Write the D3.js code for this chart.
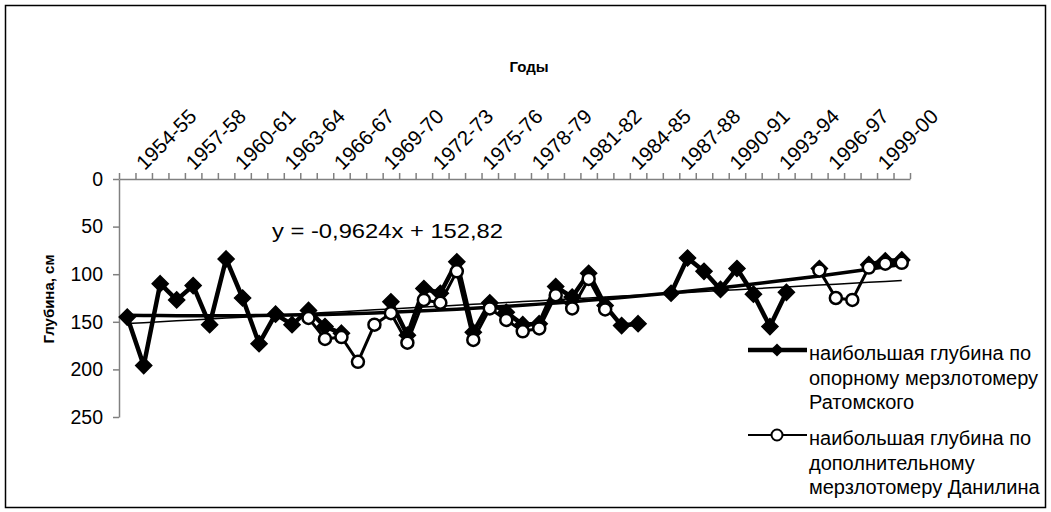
<!DOCTYPE html>
<html>
<head>
<meta charset="utf-8">
<script src="https://cdn.jsdelivr.net/npm/d3@7"></script>
<style>
  body { margin: 0; background: #fff; }
  svg { display: block; font-family: "Liberation Sans", Arial, sans-serif; }
</style>
</head>
<body>
<svg id="chart" width="1051" height="512"></svg>
<script>
// seasons 1953-54 .. 2000-01, labelled every third one
const seasons = d3.range(1953, 2001).map(function (y) {
  return y + "-" + String((y + 1) % 100).padStart(2, "0");
});
const labelIdx = d3.range(1, 48, 3);

// наибольшая глубина по опорному мерзлотомеру Ратомского
const ratomsky = [145, 196, 110, 127, 112, 153, 84, 125, 173, 142,
  153, 138, 155, 162, null, null, 129, 164, 115, 120,
  87, 161, 130, 140, 153, 152, 113, 124, 99, 133,
  154, 152, null, 120, 83, 97, 116, 94, 121, 155,
  119, null, 94, null, null, 90, 86, 85];

// наибольшая глубина по дополнительному мерзлотомеру Данилина
const danilin = [null, null, null, null, null, null, null, null, null, null,
  null, 146, 168, 166, 192, 153, 141, 172, 127, 130,
  97, 169, 136, 148, 160, 157, 122, 136, 105, 137,
  null, null, null, null, null, null, null, null, null, null,
  null, null, 96, 125, 127, 93, 89, 88];

const yTicks = [0, 50, 100, 150, 200, 250];
const linTrend = { k: -0.9624, b: 152.82 };     // thin, x = 1..48
const polyTrend = [143, 0.3, -0.0305];           // thick, x = 0..47

const svg = d3.select("#chart");

svg.append("rect")
  .attr("x", 5.5).attr("y", 5.5)
  .attr("width", 1040).attr("height", 502)
  .attr("fill", "none").attr("stroke", "#000").attr("stroke-width", 1.5);

const x = d3.scaleBand().domain(d3.range(48)).range([119, 910]).padding(0);
const xb = d3.scaleLinear().domain([0, 48]).range([119, 910]);
const y = d3.scaleLinear().domain([0, 250]).range([179, 417]);
const cx = function (i) { return x(i) + x.bandwidth() / 2; };

// axes
const gy = svg.append("g")
  .attr("transform", "translate(119,0)")
  .call(d3.axisLeft(y).tickValues(yTicks).tickSize(6).tickPadding(10).tickSizeOuter(0));
gy.selectAll("text").attr("font-size", 19.5).attr("fill", "#000").attr("font-family", null);

svg.append("g")
  .attr("transform", "translate(0,179)")
  .call(d3.axisTop(xb).tickValues(d3.range(49)).tickSize(6).tickFormat("").tickSizeOuter(0));

svg.selectAll(".domain, .tick line").attr("stroke", "#808080").attr("stroke-width", 1.5);

svg.append("g").selectAll("text")
  .data(labelIdx)
  .enter()
  .append("text")
  .attr("transform", function (i) {
    return "translate(" + (cx(i) + 1) + ",171) rotate(-45)";
  })
  .attr("font-size", 20.5)
  .text(function (i) { return seasons[i]; });

svg.append("text")
  .attr("x", 529).attr("y", 72)
  .attr("text-anchor", "middle")
  .attr("font-size", 15).attr("font-weight", "bold")
  .text("Годы");

svg.append("text")
  .attr("transform", "translate(54,299) rotate(-90)")
  .attr("text-anchor", "middle")
  .attr("font-size", 15).attr("font-weight", "bold")
  .text("Глубина, см");

// trend lines
const lin = d3.line().x(function (d) { return d[0]; }).y(function (d) { return y(d[1]); });
svg.append("path")
  .attr("d", lin(d3.range(48).map(function (i) {
    return [cx(i), linTrend.k * (i + 1) + linTrend.b];
  })))
  .attr("fill", "none").attr("stroke", "#000").attr("stroke-width", 1.5);

svg.append("path")
  .attr("d", lin(d3.range(48).map(function (i) {
    return [cx(i), polyTrend[0] + polyTrend[1] * i + polyTrend[2] * i * i];
  })))
  .attr("fill", "none").attr("stroke", "#000").attr("stroke-width", 3.5);

// series
const line = d3.line()
  .defined(function (d) { return d != null; })
  .x(function (d, i) { return cx(i); })
  .y(function (d) { return y(d); });

svg.append("path").attr("d", line(ratomsky))
  .attr("fill", "none").attr("stroke", "#000").attr("stroke-width", 4.5)
  .attr("stroke-linejoin", "round");

svg.append("path").attr("d", line(danilin))
  .attr("fill", "none").attr("stroke", "#000").attr("stroke-width", 3)
  .attr("stroke-linejoin", "round");

const diamond = d3.symbol().type(d3.symbolDiamond2).size(165);

svg.append("g").selectAll("path")
  .data(ratomsky.map(function (v, i) { return { v: v, i: i }; }).filter(function (d) { return d.v != null; }))
  .enter()
  .append("path")
  .attr("d", diamond)
  .attr("transform", function (d) { return "translate(" + cx(d.i) + "," + y(d.v) + ")"; })
  .attr("fill", "#000").attr("stroke", "#000").attr("stroke-width", 1.5);

svg.append("g").selectAll("circle")
  .data(danilin.map(function (v, i) { return { v: v, i: i }; }).filter(function (d) { return d.v != null; }))
  .enter()
  .append("circle")
  .attr("cx", function (d) { return cx(d.i); })
  .attr("cy", function (d) { return y(d.v); })
  .attr("r", 6)
  .attr("fill", "#fff").attr("stroke", "#000").attr("stroke-width", 2.5);

// equation
svg.append("text")
  .attr("x", 272).attr("y", 238)
  .attr("font-size", 21)
  .attr("textLength", 231).attr("lengthAdjust", "spacingAndGlyphs")
  .text("y = -0,9624x + 152,82");

// legend
const legend = [
  { lines: ["наибольшая глубина по", "опорному мерзлотомеру", "Ратомского"], y: 350, w: 4.5, m: "d" },
  { lines: ["наибольшая глубина по", "дополнительному", "мерзлотомеру Данилина"], y: 435, w: 2, m: "c" }
];
const lg = svg.append("g").selectAll("g").data(legend).enter().append("g");
lg.append("line")
  .attr("x1", 748).attr("x2", 807)
  .attr("y1", function (d) { return d.y; }).attr("y2", function (d) { return d.y; })
  .attr("stroke", "#000").attr("stroke-width", function (d) { return d.w; });
lg.filter(function (d) { return d.m === "d"; }).append("path")
  .attr("d", d3.symbol().type(d3.symbolDiamond2).size(110))
  .attr("transform", function (d) { return "translate(777," + d.y + ")"; })
  .attr("fill", "#000");
lg.filter(function (d) { return d.m === "c"; }).append("circle")
  .attr("cx", 777).attr("cy", function (d) { return d.y; }).attr("r", 5.5)
  .attr("fill", "#fff").attr("stroke", "#000").attr("stroke-width", 2);
lg.each(function (d) {
  d3.select(this).selectAll("text").data(d.lines).enter().append("text")
    .attr("x", 809)
    .attr("y", function (t, k) { return d.y + 10 + k * 24.5; })
    .attr("font-size", 20)
    .text(function (t) { return t; });
});
</script>
</body>
</html>
